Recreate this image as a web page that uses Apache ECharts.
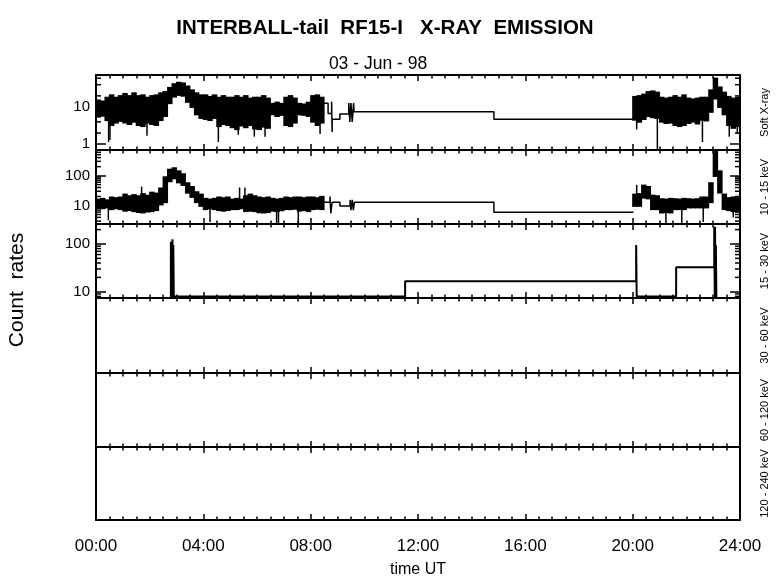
<!DOCTYPE html>
<html><head><meta charset="utf-8">
<script src="https://cdn.jsdelivr.net/npm/echarts@6/dist/echarts.min.js"></script>
<style>html,body{margin:0;padding:0;background:#fff}#c{width:780px;height:579px}</style>
</head><body><div id="c"></div>
<script>
// ---------- tick labels & names ----------
const hourTicks = ['00:00','04:00','08:00','12:00','16:00','20:00','24:00'];
const panelNames = ['Soft X-ray','10 - 15 keV','15 - 30 keV','30 - 60 keV','60 - 120 keV','120 - 240 keV'];
const yMinorTicks = [
  [2,4,6,8,20,40,60],
  [3,4,5,6,7,8,9,20,30,40,50,60,70,80,90,200,300,400,500,600,700],
  [8,9,20,30,40,50,60,70,80,90,200]
];
const logRanges = [[0.7,73],[2.4,720],[7.4,262]];
const slotHours = 1/6;            // 10-minute slots
const morningStart = 0, eveningStart = 20;

// ---------- Soft X-ray: band envelope [hi, lo] per 10-min slot ----------
const softMorning = [
 [16,5.2],[15,5.5],[19,4.2],[22,3.1],[19,3.6],[21,4.0],[24,3.6],[21,3.3],[25,3.8],
 [21,3.1],[22,2.9],[19,3.6],[21,3.3],[22,3.1],[25,4.2],[27,5.4],[35,12],[44,18],
 [48,20],[46,19],[38,13],[30,9.5],[25,6],[22,4.8],[22,4.5],[20,4.2],[22,4.8],
 [19,2.9],[21,3.3],[19,3.1],[19,2.7],[21,2.4],[19,3.0],[21,2.7],[18,3.1],[19,2.5],
 [19,2.4],[21,2.8],[18,2.6],[13,6],[14,5.4],[13,5.8],[19,3.1],[21,2.9],[18,3.6],
 [13,6],[12.5,5.8],[14,5.4],[21,3.8],[22,3.1],[19,3.6]
];
const softEvening = [
 [20,4.3],[21,3.8],[23,4.5],[27,5.4],[28,5.0],[26,4.8],[19,3.8],[18,3.5],[19,3.6],
 [21,3.1],[19,2.9],[22,3.1],[18,3.5],[17,3.8],[18,3.4],[19,4.3],[19,4.1],[30,7],
 [62,16],[36,9.5],[26,6],[20,3.1],[18,2.6],[19,2.9]
];
// narrow spikes [time, lo, hi]
const softSpikes = [
 [0.47,1.15,10],[0.52,1.3,10],[1.9,1.7,10],[4.56,1.15,8],[5.3,1.8,10],[5.9,1.6,10],
 [6.3,1.6,10],[8.35,1.9,10],[20.15,2.5,8],[20.92,0.72,8],[22.6,1.15,8],[23.6,1.6,8],[23.9,1.9,8]
];
// data-gap step line [time, value]
const softSteps = [
 [8.46,12.6],[8.65,12.6],[8.65,6.75],[8.78,6.75],[8.78,13.9],[8.8,2.15],[8.8,4.74],
 [9.09,4.74],[9.09,6.5],[9.42,6.5],[9.42,12.8],[9.46,4.0],[9.5,12.8],[9.55,4.0],
 [9.6,12.8],[9.62,7.46],[14.83,7.46],[14.83,4.74],[20.03,4.74]
];

// ---------- 10 - 15 keV ----------
const ch1Morning = [
 [17,8],[18,7.5],[16,8],[20,7],[19,7.5],[20,7],[25,6.2],[22,6.5],[24,6],
 [22,5.6],[26,5.4],[23,5.8],[29,6],[27,6.5],[40,10],[95,12],[170,60],[190,75],
 [150,55],[120,45],[60,25],[45,18],[30,12],[25,9],[18,7],[17,7.5],[18,7],
 [20,6.5],[19,6.2],[20,6.5],[17,7],[18,7],[17,7.5],[22,6],[25,6.2],[22,6],
 [20,5.5],[19,5.4],[20,5.6],[18,6.2],[17,6],[18,6.4],[20,7],[19,7],[20,7.2],
 [20,6.2],[19,6.5],[20,6],[20,7],[19,7.2],[21,7]
];
const ch1Evening = [
 [25,9],[26,9],[50,17],[45,16],[23,7],[22,7],[17.5,5.4],[17,5.6],[18,5.4],
 [17.5,7],[17,7],[18,7],[17.5,8],[17,8],[17.5,8],[20,8],[20,8],[60,12],
 [665,90],[150,25],[25,7],[19,6.5],[20,6],[19,6.2]
];
const ch1Spikes = [
 [0.46,3.2,10],[1.7,10,43],[4.25,2.8,10],[5.35,10,40],[5.55,10,40],[6.73,2.5,10],
 [6.8,2.5,10],[7.54,2.5,10],[20.15,10,49],[21.24,2.5,10],[21.83,2.5,10],[22.63,2.8,10],[23.75,4,10]
];
const ch1Steps = [
 [8.5,12.8],[8.72,12.8],[8.72,19.9],[8.75,5.4],[8.8,12.8],[9.09,12.8],[9.09,9.6],
 [9.47,9.6],[9.47,15.4],[9.5,7.0],[9.55,15.4],[9.59,7.0],[9.63,12.8],[14.83,12.8],
 [14.83,5.9],[20.03,5.9]
];

// ---------- 15 - 30 keV ----------
const ch2Line = [
 [2.79,7.5],[2.79,112],[2.81,7.5],[2.82,112],[2.84,7.5],[2.85,125],[2.87,7.5],[2.88,95],
 [2.9,8],[11.52,8],[11.52,16.5],[20.13,16.5],[20.13,95],[20.15,8],[21.62,8],[21.62,32.5],
 [23.04,32.5],[23.04,230],[23.06,7.5],[23.07,230],[23.09,7.5],[23.1,95],[23.12,7.5]
];

const FONT = '"Liberation Sans", Arial, sans-serif';
const tops = [75,150,224,298,373,447];
const heights = [75,74,74,75,74,74];

const ls = () => ({color:'#000', width:2});
const ts = () => ({color:'#000', width:1.5});
const isPow10 = v => { const e = Math.log10(v); return Math.abs(e - Math.round(e)) < 1e-6; };

const grids = tops.map((t,i)=>({left:96, right:40, top:t, height:heights[i]}));
const xAxes = [], yAxes = [], dataY = [];
for (let i=0;i<6;i++){
  const last = i===5;
  const mk = (pos)=>({type:'value', gridIndex:i, min:0, max:24, interval:4, position:pos,
    axisLine:{show:true, lineStyle:ls(), onZero:false},
    axisTick:{show:true, inside:true, length:6, lineStyle:ts()},
    minorTick:{show:true, splitNumber:8, length:3.5, lineStyle:ts()},
    splitLine:{show:false}, minorSplitLine:{show:false}});
  const xb = mk('bottom');
  xb.axisLabel = {show:last, fontSize:17, color:'#000', fontFamily:FONT, margin:18,
      formatter:v=>hourTicks[Math.round(v/4)]};
  if (last){
    xb.name='time UT'; xb.nameLocation='middle'; xb.nameGap=42;
    xb.nameTextStyle={fontSize:16, color:'#000', fontFamily:FONT};
  }
  xAxes.push(xb);
  const xt = mk('top'); xt.axisLabel={show:false};
  xAxes.push(xt);

  const nameOpt = {name:panelNames[i], nameLocation:'middle', nameRotate:90, nameGap:19,
      nameTextStyle:{fontSize:11, color:'#000', fontFamily:FONT}};
  if (i<3){
    const r = logRanges[i];
    const mkY = (pos)=>({type:'log', logBase:10, gridIndex:i, min:r[0], max:r[1], position:pos,
      axisLine:{show:true, onZero:false, lineStyle:ls()},
      axisTick:{show:true, inside:true, length:10, lineStyle:ts()},
      minorTick:{show:false}, splitLine:{show:false}, axisLabel:{show:false}});
    const left = mkY('left');
    left.axisLabel = {show:true, fontSize:15, color:'#000', fontFamily:FONT, margin:6,
      formatter:v=> isPow10(v) ? String(Math.round(v)) : ''};
    dataY.push(yAxes.length);
    yAxes.push(left);
    yAxes.push(Object.assign(mkY('right'), nameOpt));
  } else {
    const mkV = (pos)=>({type:'value', gridIndex:i, min:0, max:1, position:pos,
      axisLine:{show:true, onZero:false, lineStyle:ls()}, axisTick:{show:false},
      axisLabel:{show:false}, splitLine:{show:false}});
    dataY.push(yAxes.length);
    yAxes.push(mkV('left'));
    yAxes.push(Object.assign(mkV('right'), nameOpt));
  }
}

function bandSeries(gi, slots, start){
  const data = slots.map((s,k)=>[start + k*slotHours, s[0], s[1]]);
  return {type:'custom', xAxisIndex:gi*2, yAxisIndex:dataY[gi], data, clip:true, silent:true,
    encode:{x:0, y:[1,2]},
    renderItem:(params, api)=>{
      const t=api.value(0), hi=api.value(1), lo=api.value(2);
      const a=api.coord([t,hi]), b=api.coord([t+slotHours,lo]);
      return {type:'rect', shape:{x:a[0]-0.5, y:a[1], width:b[0]-a[0]+1, height:b[1]-a[1]},
        style:{fill:'#000'}};
    }};
}
function spikeSeries(gi, spikes){
  return {type:'custom', xAxisIndex:gi*2, yAxisIndex:dataY[gi], data:spikes, clip:true, silent:true,
    encode:{x:0, y:[1,2]},
    renderItem:(params, api)=>{
      const a=api.coord([api.value(0),api.value(1)]), b=api.coord([api.value(0),api.value(2)]);
      return {type:'line', shape:{x1:a[0], y1:a[1], x2:b[0], y2:b[1]},
        style:{stroke:'#000', lineWidth:1.5}};
    }};
}
function stepSeries(gi, pts, w){
  return {type:'line', xAxisIndex:gi*2, yAxisIndex:dataY[gi], data:pts, symbol:'none',
    lineStyle:{color:'#000', width:w||1.5}, silent:true, clip:true};
}
// log-style minor tick marks on both side axes, placed through the y scale
function minorTickSeries(gi){
  const data = yMinorTicks[gi].map(v=>[0, v]);
  return {type:'custom', xAxisIndex:gi*2, yAxisIndex:dataY[gi], data, clip:false, silent:true,
    encode:{x:0, y:1},
    renderItem:(params, api)=>{
      const v = api.value(1);
      const p = api.coord([0, v]), q = api.coord([24, v]);
      const st = {stroke:'#000', lineWidth:1.5};
      return {type:'group', children:[
        {type:'line', shape:{x1:p[0], y1:p[1], x2:p[0]+5, y2:p[1]}, style:st},
        {type:'line', shape:{x1:q[0]-5, y1:q[1], x2:q[0], y2:q[1]}, style:st}
      ]};
    }};
}

const series = [
  bandSeries(0, softMorning, morningStart), bandSeries(0, softEvening, eveningStart),
  spikeSeries(0, softSpikes), stepSeries(0, softSteps),
  bandSeries(1, ch1Morning, morningStart), bandSeries(1, ch1Evening, eveningStart),
  spikeSeries(1, ch1Spikes), stepSeries(1, ch1Steps),
  stepSeries(2, ch2Line, 2),
  minorTickSeries(0), minorTickSeries(1), minorTickSeries(2)
];

const chart = echarts.init(document.getElementById('c'), null, {renderer:'canvas'});
chart.setOption({
  animation:false,
  backgroundColor:'#fff',
  title:[
    {text:'INTERBALL-tail  RF15-I   X-RAY  EMISSION', left:380, top:13, textAlign:'center',
      textStyle:{fontSize:20.5, fontWeight:'bold', color:'#000', fontFamily:FONT}},
    {text:'03 - Jun - 98', left:373, top:50, textAlign:'center',
      textStyle:{fontSize:17.5, fontWeight:'normal', color:'#000', fontFamily:FONT}}
  ],
  graphic:[{type:'text', x:17, y:290, rotation:Math.PI/2,
    style:{text:'Count  rates', font:'21px '+FONT, fill:'#000', align:'center', verticalAlign:'middle'}}],
  grid:grids, xAxis:xAxes, yAxis:yAxes, series
});
</script></body></html>
